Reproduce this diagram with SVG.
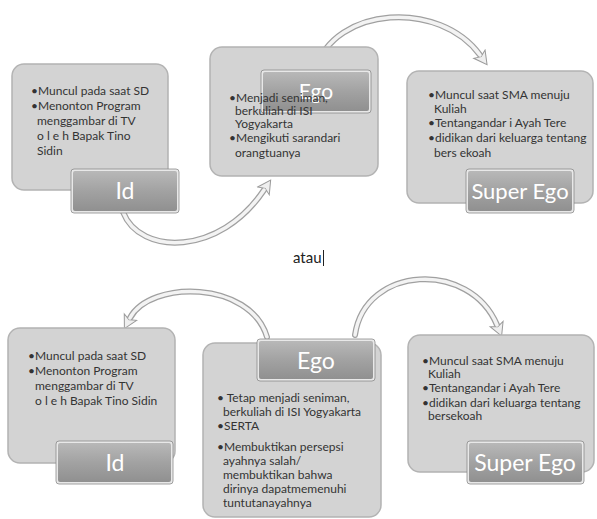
<svg xmlns="http://www.w3.org/2000/svg" width="597" height="519" viewBox="0 0 597 519">
<defs>
<linearGradient id="barG" x1="0" y1="0" x2="0" y2="1">
<stop offset="0" stop-color="#b9b9b9"/>
<stop offset="0.5" stop-color="#a2a2a2"/>
<stop offset="1" stop-color="#8f8f8f"/>
</linearGradient>
<marker id="ah" markerUnits="userSpaceOnUse" markerWidth="18" markerHeight="18" viewBox="0 0 18 18" refX="2" refY="9" orient="auto">
<path d="M1,2 L14,9 L1,16 L4,9 Z" fill="#efefef" stroke="#9a9a9a" stroke-width="1"/>
</marker>
<style>
.box{fill:#d3d3d3;stroke:#b3b3b3;stroke-width:1.5}
.bar{fill:url(#barG);stroke:#e8e8e8;stroke-width:2}
.barO{fill:none;stroke:#8a8a8a;stroke-width:0.8}
.lbl{font-family:Lato,"Liberation Sans",Arial,sans-serif;fill:#ffffff;text-anchor:middle}
.t{font-family:Lato,"Liberation Sans",Arial,sans-serif;font-size:12px;fill:#333333;white-space:pre}
.ao{fill:none;stroke:#a0a0a0;stroke-width:6;stroke-linecap:round}
.ai{fill:none;stroke:#f3f3f3;stroke-width:3.5;stroke-linecap:round}
</style>
</defs>
<rect width="597" height="519" fill="#ffffff"/>
<g id="connectors">
<path class="ao" d="M123,212 C140,256 220,256 264,190" marker-end="url(#ah)"/>
<path class="ai" d="M123,212 C140,256 220,256 264,190"/>
<path class="ao" d="M315,70 C335,5 440,0 480,55" marker-end="url(#ah)"/>
<path class="ai" d="M315,70 C335,5 440,0 480,55"/>
<path class="ao" d="M267,337 C250,280 150,280 130,318" marker-end="url(#ah)"/>
<path class="ai" d="M267,337 C250,280 150,280 130,318"/>
<path class="ao" d="M355,335 C365,265 470,260 497,325" marker-end="url(#ah)"/>
<path class="ai" d="M355,335 C365,265 470,260 497,325"/>
</g>
<g id="id-top">
<rect class="box" x="12" y="64" width="156" height="126" rx="12"/>
<text class="t"><tspan x="31" y="95">•Muncul pada saat SD</tspan><tspan x="31" y="110">•Menonton Program</tspan><tspan x="37" y="125">menggambar di TV</tspan><tspan x="37" y="140">o l e h Bapak Tino</tspan><tspan x="37" y="155">Sidin</tspan></text>
<rect class="bar" x="72" y="170" width="106" height="42" rx="3"/>
<rect class="barO" x="71" y="169" width="108" height="44" rx="3"/>
<text class="lbl" x="125" y="199" font-size="23">Id</text>
</g>
<g id="ego-top">
<rect class="box" x="210" y="47" width="168" height="129" rx="12"/>
<rect class="bar" x="262" y="71" width="108" height="41" rx="3"/>
<rect class="barO" x="261" y="70" width="110" height="43" rx="3"/>
<text class="lbl" x="316" y="99" font-size="21">Ego</text>
<text class="t"><tspan x="229" y="102">•Menjadi seniman,</tspan><tspan x="235" y="115">berkuliah di ISI</tspan><tspan x="235" y="128">Yogyakarta</tspan><tspan x="229" y="142">•Mengikuti sarandari</tspan><tspan x="235" y="157">orangtuanya</tspan></text>
</g>
<g id="superego-top">
<rect class="box" x="407" y="71" width="186" height="132" rx="12"/>
<text class="t"><tspan x="428" y="99">•Muncul saat SMA menuju</tspan><tspan x="434" y="113">Kuliah</tspan><tspan x="428" y="127">•Tentangandar i Ayah Tere</tspan><tspan x="428" y="142">•didikan dari keluarga tentang</tspan><tspan x="434" y="157">bers ekoah</tspan></text>
<rect class="bar" x="467" y="170" width="106" height="42" rx="3"/>
<rect class="barO" x="466" y="169" width="108" height="44" rx="3"/>
<text class="lbl" x="520" y="199" font-size="22">Super  Ego</text>
</g>
<g id="atau">
<text x="293" y="263" font-family="Lato, Liberation Sans, Arial, sans-serif" font-size="15" fill="#222">atau</text>
<line x1="323.5" y1="250" x2="323.5" y2="266" stroke="#222" stroke-width="1"/>
</g>
<g id="id-bottom">
<rect class="box" x="8" y="328" width="167" height="135" rx="12"/>
<text class="t"><tspan x="28" y="360">•Muncul pada saat SD</tspan><tspan x="28" y="375">•Menonton Program</tspan><tspan x="35" y="390">menggambar di TV</tspan><tspan x="35" y="405">o l e h Bapak Tino Sidin</tspan></text>
<rect class="bar" x="57" y="442" width="115" height="41" rx="3"/>
<rect class="barO" x="56" y="441" width="117" height="43" rx="3"/>
<text class="lbl" x="115" y="471" font-size="23">Id</text>
</g>
<g id="ego-bottom">
<rect class="box" x="203" y="343" width="178" height="174" rx="12"/>
<rect class="bar" x="258" y="340" width="116" height="40" rx="3"/>
<rect class="barO" x="257" y="339" width="118" height="42" rx="3"/>
<text class="lbl" x="316" y="369" font-size="23">Ego</text>
<text class="t"><tspan x="217" y="402">• Tetap menjadi seniman,</tspan><tspan x="223" y="416">berkuliah di ISI Yogyakarta</tspan><tspan x="217" y="430">•SERTA</tspan><tspan x="217" y="451">•Membuktikan persepsi</tspan><tspan x="223" y="465">ayahnya salah/</tspan><tspan x="223" y="479">membuktikan bahwa</tspan><tspan x="223" y="493">dirinya dapatmemenuhi</tspan><tspan x="223" y="507">tuntutanayahnya</tspan></text>
</g>
<g id="superego-bottom">
<rect class="box" x="408" y="335" width="186" height="137" rx="12"/>
<text class="t"><tspan x="422" y="365">•Muncul saat SMA menuju</tspan><tspan x="428" y="378">Kuliah</tspan><tspan x="422" y="392">•Tentangandar i Ayah Tere</tspan><tspan x="422" y="407">•didikan dari keluarga tentang</tspan><tspan x="428" y="420">bersekoah</tspan></text>
<rect class="bar" x="468" y="442" width="115" height="41" rx="3"/>
<rect class="barO" x="467" y="441" width="117" height="43" rx="3"/>
<text class="lbl" x="525" y="471" font-size="23">Super Ego</text>
</g>
</svg>
